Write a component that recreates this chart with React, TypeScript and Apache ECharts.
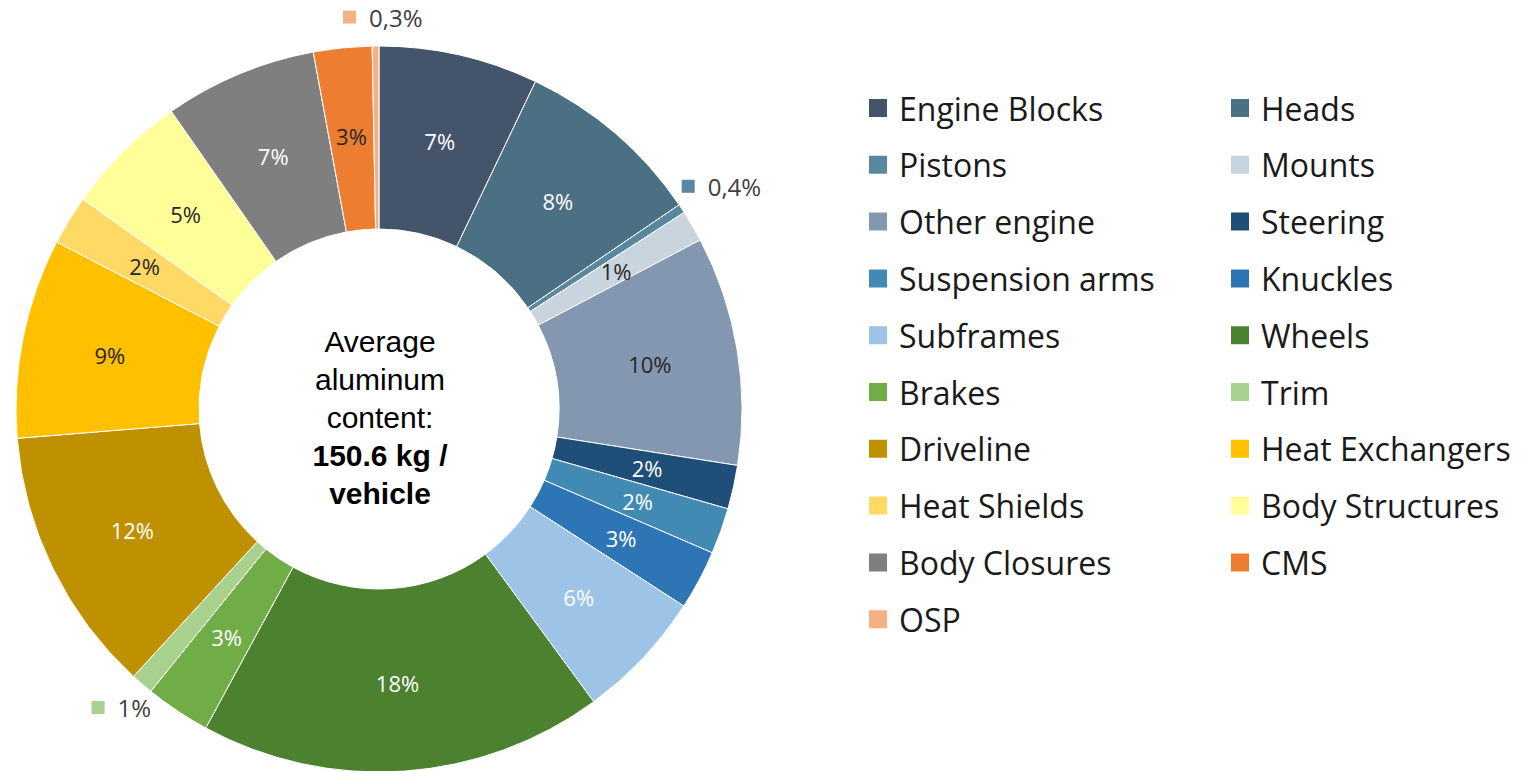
import React, { useEffect, useRef } from "react";
import * as echarts from "echarts";

const categories = [
  "Engine Blocks", "Heads", "Pistons", "Mounts", "Other engine", "Steering",
  "Suspension arms", "Knuckles", "Subframes", "Wheels", "Brakes", "Trim",
  "Driveline", "Heat Exchangers", "Heat Shields", "Body Structures",
  "Body Closures", "CMS", "OSP",
];
const shares = [7.1, 8.4, 0.4, 1.4, 10.2, 1.95, 2.05, 2.65, 5.8, 18.0, 2.9, 1.0, 11.9, 8.9, 2.2, 5.5, 6.8, 2.6, 0.3];
const shareLabels = ["7%", "8%", "0,4%", "1%", "10%", "2%", "2%", "3%", "6%", "18%", "3%", "1%", "12%", "9%", "2%", "5%", "7%", "3%", "0,3%"];
const centerLines = ["Average", "aluminum", "content:"];
const centerBold = ["150.6 kg /", "vehicle"];

const colors = [
  "#44546a", "#4b7083", "#5a87a0", "#c8d5df", "#8497b0", "#1f4e79",
  "#418ab3", "#2e75b6", "#9dc3e6", "#4b812f", "#70ad47", "#a9d18e",
  "#bf9000", "#ffc000", "#ffd966", "#ffff99", "#7f7f7f", "#ed7d31", "#f4b183",
];
const darkText = new Set(["Mounts", "Other engine", "Heat Exchangers", "Heat Shields", "Body Structures", "CMS"]);
const outsideNudge: Record<string, [number, number]> = {
  Pistons: [-10, -19],
  Trim: [18, 19],
  OSP: [52, -23],
};

const FONT = "Open Sans";

export default function App() {
  const ref = useRef<HTMLDivElement>(null);
  useEffect(() => {
    if (!ref.current) return;
    const chart = echarts.init(ref.current, undefined, { renderer: "svg" });
    const rich: Record<string, any> = {
      t: { fontFamily: FONT, fontSize: 24, color: "#404040", padding: [0, 0, 0, 13] },
    };
    colors.forEach((c, i) => {
      rich["sq" + i] = { width: 13, height: 13, backgroundColor: c };
    });
    const data = categories.map((name, i) => {
      const outside = name in outsideNudge;
      return {
        name,
        value: shares[i],
        itemStyle: { color: colors[i] },
        label: outside
          ? { position: "outside" }
          : { position: "inside", color: darkText.has(name) ? "#262626" : "#ffffff" },
      };
    });
    chart.setOption({
      animation: false,
      backgroundColor: "#ffffff",
      legend: [0, 1].map((col) => ({
        orient: "vertical",
        left: col === 0 ? 867 : 1229,
        top: 92,
        padding: 0,
        itemWidth: 20,
        itemHeight: 20,
        itemGap: 24.8,
        icon: "rect",
        selectedMode: false,
        data: categories.filter((_, i) => i % 2 === col),
        textStyle: { fontFamily: FONT, fontSize: 32, color: "#1a1a1a", lineHeight: 32, padding: [0, 0, 0, 6] },
      })),
      graphic: [
        {
          type: "text",
          x: 380,
          y: 417,
          style: {
            text: [...centerLines.map((l) => `{n|${l}}`), ...centerBold.map((l) => `{b|${l}}`)].join("\n"),
            align: "center",
            verticalAlign: "middle",
            rich: {
              n: { fontFamily: "Liberation Sans", fontSize: 30, lineHeight: 38, color: "#111111", align: "center" },
              b: { fontFamily: "Liberation Sans", fontSize: 30, fontWeight: "bold", lineHeight: 38, color: "#111111", align: "center" },
            },
          },
        },
      ],
      series: [
        {
          type: "pie",
          center: [379, 409],
          radius: [180, 363],
          startAngle: 90,
          clockwise: true,
          avoidLabelOverlap: false,
          itemStyle: { borderColor: "#ffffff", borderWidth: 1 },
          label: {
            show: true,
            fontFamily: FONT,
            fontSize: 22,
            formatter: (p: any) => {
              const name = categories[p.dataIndex];
              if (name in outsideNudge) return `{sq${p.dataIndex}|}{t|${shareLabels[p.dataIndex]}}`;
              return shareLabels[p.dataIndex];
            },
            rich,
          },
          labelLine: { show: false, length: 6, length2: 0 },
          labelLayout: (params: any) => {
            const n = outsideNudge[categories[params.dataIndex]];
            return n ? { dx: n[0], dy: n[1] } : {};
          },
          emphasis: { disabled: true },
          data,
        },
      ],
    });
    return () => chart.dispose();
  }, []);
  return (
    <div
      ref={ref}
      style={{ position: "absolute", left: 0, top: 0, width: 1534, height: 771 }}
    />
  );
}
